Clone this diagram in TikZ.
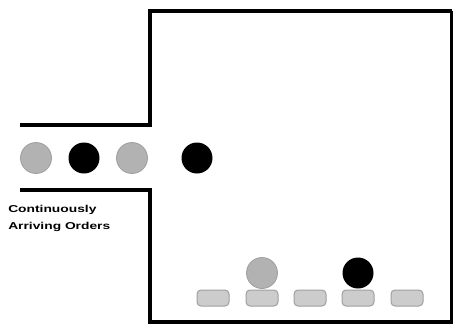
\documentclass[tikz,border=0pt]{standalone}
\usepackage{fontspec}
\setmainfont{Liberation Sans}
\tikzset{
  wall/.style={line width=3.8pt, line join=miter},
  order/.style={circle, minimum size=31pt, inner sep=0pt},
  greyorder/.style={order, fill=gray!60, draw=gray!75, line width=0.8pt},
  blackorder/.style={order, fill=black},
  slot/.style={rounded corners=4pt, minimum width=32pt, minimum height=16pt,
    inner sep=0pt, fill=gray!40, draw=gray!75, line width=1pt},
}
\begin{document}
\begin{tikzpicture}[x=1pt, y=-1pt]
    \useasboundingbox (0,0) rectangle (453,327);

    % outline of the warehouse with the entry channel
    \draw[wall] (20,125) -- (150,125) -- (150,11) -- (452,11);
    \draw[wall] (452,11) -- (452,322) -- (150,322) -- (150,190) -- (20,190);

    % orders coming in
    \node[greyorder]  (o1) at (36,158) {};
    \node[blackorder] (o2) at (84,158) {};
    \node[greyorder]  (o3) at (132,158) {};
    \node[blackorder] (o4) at (197,158) {};

    \node[font=\bfseries\fontsize{10}{17}\selectfont, align=left, anchor=north west,
      inner sep=0pt, xscale=1.38, transform shape] (lbl) at (8,205)
      {Continuously\\Arriving Orders};

    % storage slots along the floor
    \foreach \i/\x in {1/213,2/262,3/310,4/358,5/407} {
        \node[slot] (s\i) at (\x,298) {};
      }
    \node[greyorder]  (p2) at (262,273) {};
    \node[blackorder] (p4) at (358,273) {};
  \end{tikzpicture}
\end{document}
